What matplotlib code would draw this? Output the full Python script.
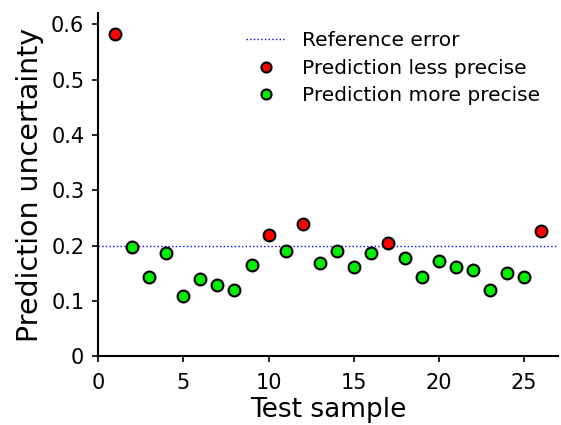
import matplotlib
matplotlib.use("Agg")
import matplotlib.pyplot as plt

# prediction uncertainty per test sample
samples = list(range(1, 27))
uncertainty = [0.583, 0.198, 0.143, 0.187, 0.108, 0.140, 0.129, 0.119, 0.165, 0.219,
               0.190, 0.238, 0.169, 0.190, 0.161, 0.187, 0.205, 0.177, 0.143, 0.172,
               0.161, 0.155, 0.119, 0.151, 0.143, 0.226]
ref_error = 0.2

less_x = [s for s, u in zip(samples, uncertainty) if u > ref_error]
less_y = [u for u in uncertainty if u > ref_error]
more_x = [s for s, u in zip(samples, uncertainty) if u <= ref_error]
more_y = [u for u in uncertainty if u <= ref_error]

plt.rcParams['font.family'] = ['DejaVu Sans']
fig = plt.figure(figsize=(5.61, 4.25), dpi=100)
ax = fig.add_axes([0.175, 0.162, 0.82, 0.807])

ax.axhline(ref_error, color='blue', linestyle=':', linewidth=1, label='Reference error')
ax.plot(less_x, less_y, 'o', color='red', markeredgecolor='black', markeredgewidth=1.5,
        markersize=8.5, label='Prediction less precise')
ax.plot(more_x, more_y, 'o', color='#00ee00', markeredgecolor='black', markeredgewidth=1.5,
        markersize=8.5, label='Prediction more precise')

ax.set_xlim(0, 27)
ax.set_ylim(0, 0.62)
ax.set_xticks([0, 5, 10, 15, 20, 25])
ax.set_yticks([0, 0.1, 0.2, 0.3, 0.4, 0.5, 0.6])
ax.set_yticklabels(['0', '0.1', '0.2', '0.3', '0.4', '0.5', '0.6'])
ax.spines['top'].set_visible(False)
ax.spines['right'].set_visible(False)
ax.spines['left'].set_linewidth(1.5)
ax.spines['bottom'].set_linewidth(1.5)
ax.tick_params(labelsize=15, width=1.2, length=4)
ax.tick_params(axis='x', pad=8)
ax.tick_params(axis='y', pad=6)
ax.set_xlabel('Test sample', fontsize=19, labelpad=3)
ax.set_ylabel('Prediction uncertainty', fontsize=20.5, labelpad=5)
ax.legend(loc='upper right', frameon=False, fontsize=14.5, handlelength=2, labelspacing=0.42,
          markerscale=0.85, bbox_to_anchor=(1.0, 1.0))

fig.savefig('out.png', dpi=100)
